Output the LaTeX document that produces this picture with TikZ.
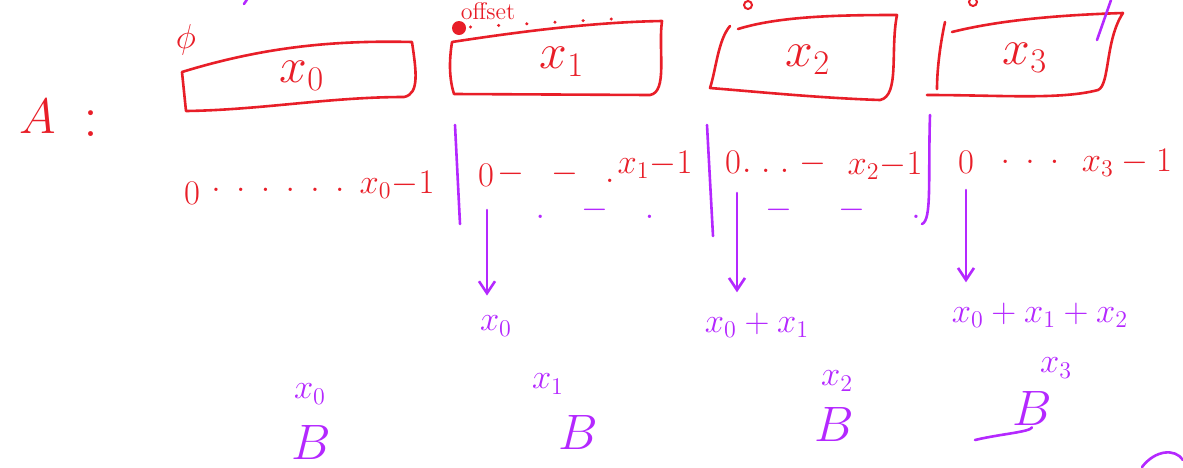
\documentclass[tikz,border=0pt]{standalone}
\usetikzlibrary{arrows.meta}
\definecolor{pen}{RGB}{232,30,40}
\definecolor{ink}{RGB}{180,40,255}
\begin{document}
\begin{tikzpicture}[x=0.5pt,y=-0.5pt,
 redline/.style={draw=pen,line width=1.3pt,line cap=round,line join=round},
 purpline/.style={draw=ink,line width=1.3pt,line cap=round,line join=round},
 boxlbl/.style={text=pen,font=\fontsize{27}{30}\selectfont,inner sep=0pt},
 rangelbl/.style={text=pen,font=\fontsize{17}{20}\selectfont,inner sep=1pt},
 sumlbl/.style={text=ink,font=\fontsize{17}{20}\selectfont,inner sep=2pt},
 smalllbl/.style={text=ink,font=\fontsize{17}{19}\selectfont,inner sep=1pt},
 blbl/.style={text=ink,font=\fontsize{24}{26}\selectfont,inner sep=1pt},
 arr/.style={purpline,-{Straight Barb[length=6pt,width=8pt]}},
]
\useasboundingbox (0,0) rectangle (1183,467);
% A :
\node[text=pen,font=\fontsize{36}{40}\selectfont,inner sep=0pt] (A) at (38,116) {$A$};
\node[text=pen,font=\fontsize{30}{34}\selectfont,inner sep=0pt] (colon) at (91,124) {:};
% boxes
\draw[redline] (182,72) .. controls (260,48) and (330,40) .. (412,42)
  .. controls (416,70) and (420,94) .. (404,97)
  .. controls (330,97) and (260,110) .. (186,111) -- cycle;
\draw[redline] (452,42) .. controls (530,30) and (600,22) .. (662,21)
  .. controls (658,50) and (668,92) .. (650,95)
  -- (454,94) .. controls (448,75) and (450,55) .. cycle;
\draw[redline] (738,29) .. controls (780,16) and (840,15) .. (897,15)
  .. controls (890,50) and (900,96) .. (880,100)
  .. controls (820,98) and (760,92) .. (710,88)
  .. controls (716,70) and (718,40) .. (730,26);
\draw[redline] (952,32) .. controls (1000,20) and (1060,15) .. (1123,13)
  .. controls (1105,40) and (1110,85) .. (1098,90)
  .. controls (1060,100) and (1000,95) .. (927,95);
\draw[redline] (945,22) .. controls (940,45) and (937,70) .. (937,89);
\node[boxlbl] (b0) at (302,76) {$x_0$};
\node[boxlbl] (b1) at (562,62) {$x_1$};
\node[boxlbl] (b2) at (808,60) {$x_2$};
\node[boxlbl] (b3) at (1025,58) {$x_3$};
% top marks
\node[text=pen,font=\fontsize{16}{18}\selectfont,inner sep=0pt] (phi) at (186,40) {$\phi$};
\node[text=pen,font=\fontsize{12}{14}\selectfont,inner sep=0pt,anchor=north] (off) at (488,2) {offset};
\node[circle,fill=pen,inner sep=0pt,minimum size=7pt] (dot) at (459,28) {};
\coordinate (dotend) at (612,19);
\draw[pen,line width=1.6pt,line cap=round,dash pattern=on 0.1pt off 14pt] (dot.east) ++(4,-1) -- (dotend);
\node[draw=pen,line width=1pt,circle,inner sep=0pt,minimum size=4pt] (o2) at (748,5) {};
\node[draw=pen,line width=1pt,circle,inner sep=0pt,minimum size=4pt] (o3) at (973,2) {};
\coordinate (t1) at (1097,40); \coordinate (t2) at (1111,0);
\draw[purpline] (t1) -- (t2);
\coordinate (t3) at (244,4); \coordinate (t4) at (248,-2);
\draw[purpline] (t3) -- (t4);
% ranges
\node[rangelbl] (z0) at (192,193) {$0$};
\node[rangelbl] (d0) at (278,190) {$.\;\,.\;\,.\;\,.\;\,.\;\,.$};
\node[rangelbl] (e0) at (397,185) {$x_0{-}1$};
\node[rangelbl] (z1) at (486,175) {$0$};
\node[rangelbl] (d1) at (556,174) {$-\;\;-\;\;.$};
\node[rangelbl] (e1) at (655,165) {$x_1{-}1$};
\node[rangelbl] (z2) at (733,162) {$0$};
\node[rangelbl] (d2) at (784,164) {$.\;.\;.\;{-}$};
\node[rangelbl] (e2) at (885,166) {$x_2{-}1$};
\node[rangelbl] (z3) at (966,162) {$0$};
\node[rangelbl] (d3) at (1030,162) {$.\;\,.\;\,.$};
\node[rangelbl] (e3) at (1127,163) {$x_3-1$};
% separators
\coordinate (p1a) at (455,125); \coordinate (p1b) at (460,224);
\coordinate (p2a) at (707,125); \coordinate (p2b) at (713,236);
\coordinate (p3a) at (930,115); \coordinate (p3b) at (922,224);
\draw[purpline] (p1a) -- (p1b);
\draw[purpline] (p2a) -- (p2b);
\draw[purpline] (p3a) .. controls (928,180) and (932,220) .. (p3b);
% purple dots under ranges
\node[text=ink,font=\fontsize{17}{20}\selectfont,inner sep=0pt] (u1) at (595,210) {$.\;\;\;-\;\;\;.$};
\node[text=ink,font=\fontsize{17}{20}\selectfont,inner sep=0pt] (u2) at (843,210) {$-\;\;\;\;-\;\;\;\;.$};
% arrows
\coordinate (a1) at (487,210);
\coordinate (a2) at (737,193);
\coordinate (a3) at (966,190);
\node[sumlbl] (s1) at (496,326) {$x_0$};
\node[sumlbl] (s2) at (757,325) {$x_0+x_1$};
\node[sumlbl] (s3) at (1040,315) {$x_0+x_1+x_2$};
\draw[arr,shorten >=8pt] (a1) -- (a1 |- s1.north);
\draw[arr,shorten >=8pt] (a2) -- (a2 |- s2.north);
\draw[arr,shorten >=8pt] (a3) -- (a3 |- s3.north);
% bottom
\node[smalllbl] (c0) at (310,394) {$x_0$};
\node[blbl] (B0) at (311,442) {$B$};
\node[smalllbl] (c1) at (548,384) {$x_1$};
\node[blbl] (B1) at (578,432) {$B$};
\node[smalllbl] (c2) at (837,381) {$x_2$};
\node[blbl] (B2) at (834,424) {$B$};
\node[smalllbl] (c3) at (1056,368) {$x_3$};
\node[blbl] (B3) at (1032,408) {$B$};
\coordinate (tail) at (975,440);
\draw[purpline] (B3.south) .. controls (1030,432) and (1000,434) .. (tail);
\coordinate (arcA) at (1142,467); \coordinate (arcB) at (1183,460);
\draw[purpline] (arcA) .. controls (1155,450) and (1175,448) .. (arcB);
\end{tikzpicture}
\end{document}
